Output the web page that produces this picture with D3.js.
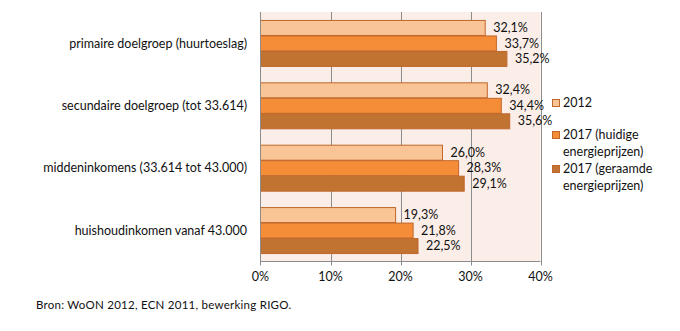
<!DOCTYPE html>
<html>
<head>
<meta charset="utf-8">
<script src="https://cdn.jsdelivr.net/npm/d3@7"></script>
<style>
  html, body { margin: 0; padding: 0; background: #fff; }
  svg { display: block; font-family: Lato, "Open Sans", sans-serif; }
</style>
</head>
<body>
<svg id="chart" width="680" height="331"></svg>
<script>
// Income groups (top to bottom)
const categories = [
  "primaire doelgroep (huurtoeslag)",
  "secundaire doelgroep (tot 33.614)",
  "middeninkomens (33.614 tot 43.000)",
  "huishoudinkomen vanaf 43.000"
];
// Series names, as in the legend
const seriesNames = [
  "2012",
  "2017 (huidige energieprijzen)",
  "2017 (geraamde energieprijzen)"
];
// Shares in percent, one array per series
const values2012 = [32.1, 32.4, 26.0, 19.3];
const values2017Huidig = [33.7, 34.4, 28.3, 21.8];
const values2017Geraamd = [35.2, 35.6, 29.1, 22.5];
const seriesValues = [values2012, values2017Huidig, values2017Geraamd];
const xTicks = [0, 10, 20, 30, 40];
const colors = ["#F9C496", "#F58D38", "#C17331"];
const legendLines = [["2012"], ["2017 (huidige", "energieprijzen)"], ["2017 (geraamde", "energieprijzen)"]];
const source = "Bron: WoON 2012, ECN 2011, bewerking RIGO.";

const svg = d3.select("#chart");
const plot = { left: 260.5, right: 540.5, top: 12, bottom: 261.5 };

const x = d3.scaleLinear().domain([0, 40]).range([plot.left, plot.right]);
const y0 = d3.scaleBand().domain(categories).range([plot.top, plot.bottom])
  .paddingInner(0.255).paddingOuter(0.1275);
const y1 = d3.scaleBand().domain(d3.range(seriesNames.length)).range([0, y0.bandwidth()]);

// plot background
svg.append("rect")
  .attr("x", plot.left).attr("y", plot.top)
  .attr("width", plot.right - plot.left).attr("height", plot.bottom - plot.top)
  .attr("fill", "#FBEDE7");

// vertical gridlines
svg.append("g").selectAll("line").data(xTicks.filter(d => d > 0)).join("line")
  .attr("x1", d => Math.round(x(d)) + 0.5).attr("x2", d => Math.round(x(d)) + 0.5)
  .attr("y1", plot.top).attr("y2", plot.bottom + 4)
  .attr("stroke", "#8C8C8C").attr("stroke-width", 1);

// bars
const groups = svg.append("g").selectAll("g").data(categories).join("g")
  .attr("transform", d => `translate(0,${y0(d)})`);

groups.each(function(cat, ci) {
  const g = d3.select(this);
  seriesValues.forEach((vals, si) => {
    const v = vals[ci];
    g.append("rect")
      .attr("x", x(0))
      .attr("y", y1(si) + 0.5)
      .attr("width", x(v) - x(0))
      .attr("height", y1.bandwidth() - 0.5)
      .attr("fill", colors[si])
      .attr("stroke", "#C0672B").attr("stroke-width", 1);
    g.append("text")
      .attr("x", x(v) + 8)
      .attr("y", y1(si) + y1.bandwidth() / 2)
      .attr("dy", "0.35em")
      .attr("font-size", 12.5)
      .attr("fill", "#111")
      .text(v.toFixed(1).replace(".", ",") + "%");
  });
});

// axes lines
svg.append("line")
  .attr("x1", plot.left).attr("x2", plot.left)
  .attr("y1", plot.top).attr("y2", plot.bottom + 4)
  .attr("stroke", "#8C8C8C");
svg.append("line")
  .attr("x1", plot.left).attr("x2", plot.right)
  .attr("y1", plot.bottom).attr("y2", plot.bottom)
  .attr("stroke", "#8C8C8C");

// x tick labels
svg.append("g").selectAll("text").data(xTicks).join("text")
  .attr("x", d => x(d)).attr("y", 281)
  .attr("text-anchor", "middle")
  .attr("font-size", 12.5)
  .attr("fill", "#111")
  .text(d => d + "%");

// category labels
svg.append("g").selectAll("text").data(categories).join("text")
  .attr("x", 247).attr("y", d => y0(d) + y0.bandwidth() / 2)
  .attr("dy", "0.35em")
  .attr("text-anchor", "end")
  .attr("font-size", 12.5)
  .attr("fill", "#111")
  .text(d => d);

// legend
const legendY = [103, 135, 169];
legendLines.forEach((lines, i) => {
  svg.append("rect")
    .attr("x", 552.5).attr("y", legendY[i] - 3.5)
    .attr("width", 7).attr("height", 7)
    .attr("fill", colors[i]).attr("stroke", "#C0672B");
  lines.forEach((t, j) => {
    svg.append("text")
      .attr("x", 563).attr("y", legendY[i] + j * 17)
      .attr("dy", "0.35em")
      .attr("font-size", 12.5)
      .attr("fill", "#111")
      .text(t);
  });
});

// source note
svg.append("text")
  .attr("x", 36).attr("y", 309)
  .attr("font-size", 11.5)
  .attr("letter-spacing", 0.25)
  .attr("fill", "#111")
  .text(source);
</script>
</body>
</html>
